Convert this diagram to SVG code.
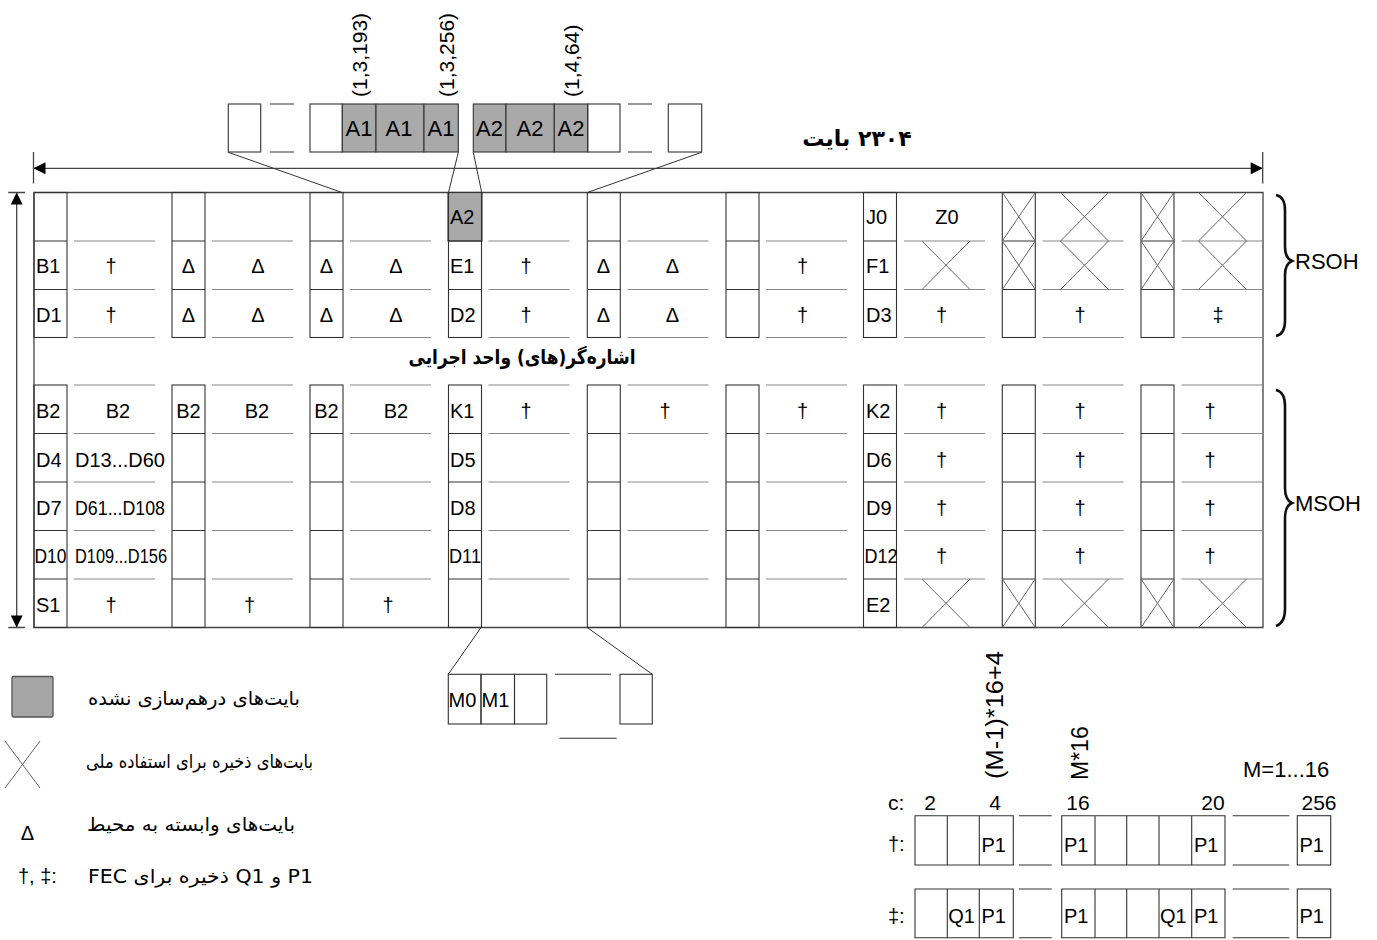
<svg xmlns="http://www.w3.org/2000/svg" xmlns:xlink="http://www.w3.org/1999/xlink" width="1377" height="940" viewBox="0 0 1377 940">
<style>
.t{font-family:'Liberation Sans',Arial,sans-serif;font-size:20px;fill:#000}
.tc{text-anchor:middle}
.big{font-size:22px}
.fa{font-family:'DejaVu Sans','Noto Sans',sans-serif;font-size:19px;fill:#000}
.fab{font-family:'DejaVu Sans','Noto Sans',sans-serif;font-size:20px;font-weight:bold;fill:#000}
.box{fill:none;stroke:#333;stroke-width:1.1}
.seg{fill:none;stroke:#888;stroke-width:1.1}
.x{fill:none;stroke:#666;stroke-width:1}
.gr{fill:#a9a9a9;stroke:#333;stroke-width:1.1}
.out{fill:none;stroke:#444;stroke-width:1.3}
.ln{fill:none;stroke:#333;stroke-width:1}
.ar{fill:none;stroke:#444;stroke-width:1.3}
.br{fill:none;stroke:#111;stroke-width:2.6}
</style>
<defs>
<marker id="ah" viewBox="0 0 10 10" refX="10" refY="5" markerWidth="13" markerHeight="12" markerUnits="userSpaceOnUse" orient="auto-start-reverse"><path d="M0,0 L10,5 L0,10 z" fill="#000"/></marker>
<g id="colbox"><rect x="0" y="192.5" width="33" height="145"/><rect x="0" y="385" width="33" height="242.5"/><path d="M0 241H33M0 289.5H33M0 433.5H33M0 482H33M0 530.5H33M0 579H33"/></g>
<path id="segs" d="M0 241H81M0 289.5H81M0 337.5H81M0 385H81M0 433.5H81M0 482H81M0 530.5H81M0 579H81"/>
<path id="xcell" d="M0 0L33 48.5M33 0L0 48.5"/>
<path id="xgap" d="M0 0L48 48.5M48 0L0 48.5"/>
</defs>

<!-- width / height dimension arrows and title -->
<g id="dimensions">
<text class="fab" x="857" y="146" text-anchor="middle" direction="rtl" style="font-size:22px">۲۳۰۴ بایت</text>
<line class="ar" x1="33.5" y1="168.3" x2="1262.7" y2="168.3" marker-start="url(#ah)" marker-end="url(#ah)"/>
<path class="ar" d="M33.5 152V183.5M1262.7 152V183.5"/>
<line class="ar" x1="16.7" y1="192.5" x2="16.7" y2="627.5" marker-start="url(#ah)" marker-end="url(#ah)"/>
<path class="ar" d="M8.3 192.5H25M8.3 627.5H25"/>
</g>

<!-- top byte strip -->
<g id="top-strip">
<rect class="box" x="228.3" y="104" width="32.4" height="48"/>
<path class="box" d="M270 104H294M270 152H294M628 104H652M628 152H652"/>
<rect class="box" x="310" y="104" width="32.3" height="48"/>
<rect class="gr" x="342.3" y="104" width="33.7" height="48"/>
<rect class="gr" x="376" y="104" width="48" height="48"/>
<rect class="gr" x="424" y="104" width="34.3" height="48"/>
<rect class="gr" x="473.3" y="104" width="32.7" height="48"/>
<rect class="gr" x="506" y="104" width="48.3" height="48"/>
<rect class="gr" x="554.3" y="104" width="33.4" height="48"/>
<rect class="box" x="587.7" y="104" width="32.3" height="48"/>
<rect class="box" x="668.3" y="104" width="33.4" height="48"/>
<text class="t big tc" x="359" y="136">A1</text>
<text class="t big tc" x="399" y="136">A1</text>
<text class="t big tc" x="441" y="136">A1</text>
<text class="t big tc" x="489.5" y="136">A2</text>
<text class="t big tc" x="530" y="136">A2</text>
<text class="t big tc" x="571" y="136">A2</text>
<text class="t" style="font-size:21px" x="367.3" y="97" transform="rotate(-90 367.3 97)">(1,3,193)</text>
<text class="t" style="font-size:21px" x="453.8" y="97" transform="rotate(-90 453.8 97)">(1,3,256)</text>
<text class="t" style="font-size:21px" x="578.8" y="97" transform="rotate(-90 578.8 97)">(1,4,64)</text>
</g>

<!-- main frame -->
<g id="frame">
<path class="out" d="M34 192.5H1263V627.5H34Z"/>
<g class="seg">
<use xlink:href="#segs" x="74"/><use xlink:href="#segs" x="212"/><use xlink:href="#segs" x="350"/>
<use xlink:href="#segs" x="488.5"/><use xlink:href="#segs" x="627.5"/><use xlink:href="#segs" x="766"/>
<use xlink:href="#segs" x="904"/><use xlink:href="#segs" x="1042.5"/><use xlink:href="#segs" x="1181.5"/>
</g>
<text class="fab" x="522" y="364" text-anchor="middle" direction="rtl" textLength="227" lengthAdjust="spacingAndGlyphs">اشاره&#x200C;گر(های) واحد اجرایی</text>
</g>

<g id="col1">
<use class="box" xlink:href="#colbox" x="34"/>
<text class="t" x="36" y="273">B1</text>
<text class="t" x="36" y="321.5">D1</text>
<text class="t" x="36" y="417.5">B2</text>
<text class="t" x="36" y="466.5">D4</text>
<text class="t" x="36" y="515">D7</text>
<text class="t" x="34.5" y="563" textLength="32" lengthAdjust="spacingAndGlyphs">D10</text>
<text class="t" x="36" y="611.5">S1</text>
</g>
<g id="gap1">
<text class="t tc" x="111" y="273">†</text>
<text class="t tc" x="111" y="321.5">†</text>
<text class="t tc" x="118" y="417.5">B2</text>
<text class="t" x="75" y="466.5" textLength="90" lengthAdjust="spacingAndGlyphs">D13...D60</text>
<text class="t" x="75" y="515" textLength="90" lengthAdjust="spacingAndGlyphs">D61...D108</text>
<text class="t" x="75" y="563" textLength="92" lengthAdjust="spacingAndGlyphs">D109...D156</text>
<text class="t tc" x="111" y="611.5">†</text>
</g>
<g id="col2">
<use class="box" xlink:href="#colbox" x="172"/>
<text class="t tc" x="188.5" y="273">Δ</text>
<text class="t tc" x="188.5" y="321.5">Δ</text>
<text class="t tc" x="188.5" y="417.5">B2</text>
</g>
<g id="gap2">
<text class="t tc" x="258" y="273">Δ</text>
<text class="t tc" x="258" y="321.5">Δ</text>
<text class="t tc" x="257" y="417.5">B2</text>
<text class="t tc" x="249.5" y="611.5">†</text>
</g>
<g id="col3">
<use class="box" xlink:href="#colbox" x="310"/>
<text class="t tc" x="326.5" y="273">Δ</text>
<text class="t tc" x="326.5" y="321.5">Δ</text>
<text class="t tc" x="326.5" y="417.5">B2</text>
</g>
<g id="gap3">
<text class="t tc" x="396" y="273">Δ</text>
<text class="t tc" x="396" y="321.5">Δ</text>
<text class="t tc" x="396" y="417.5">B2</text>
<text class="t tc" x="388" y="611.5">†</text>
</g>
<g id="col4">
<rect class="gr" x="448" y="192.5" width="34" height="48.5"/>
<use class="box" xlink:href="#colbox" x="448.5"/>
<text class="t" x="450" y="224">A2</text>
<text class="t" x="450" y="273">E1</text>
<text class="t" x="450" y="321.5">D2</text>
<text class="t" x="450" y="417.5">K1</text>
<text class="t" x="450" y="466.5">D5</text>
<text class="t" x="450" y="515">D8</text>
<text class="t" x="449" y="563" textLength="32" lengthAdjust="spacingAndGlyphs">D11</text>
</g>
<g id="gap4">
<text class="t tc" x="526" y="273">†</text>
<text class="t tc" x="526" y="321.5">†</text>
<text class="t tc" x="526" y="417.5">†</text>
</g>
<g id="col5">
<use class="box" xlink:href="#colbox" x="587.3"/>
<text class="t tc" x="603.5" y="273">Δ</text>
<text class="t tc" x="603.5" y="321.5">Δ</text>
</g>
<g id="gap5">
<text class="t tc" x="672.5" y="273">Δ</text>
<text class="t tc" x="672.5" y="321.5">Δ</text>
<text class="t tc" x="665" y="417.5">†</text>
</g>
<g id="col6">
<use class="box" xlink:href="#colbox" x="726"/>
</g>
<g id="gap6">
<text class="t tc" x="802.5" y="273">†</text>
<text class="t tc" x="802.5" y="321.5">†</text>
<text class="t tc" x="802.5" y="417.5">†</text>
</g>
<g id="col7">
<use class="box" xlink:href="#colbox" x="863.5"/>
<text class="t" x="866" y="224">J0</text>
<text class="t" x="866" y="273">F1</text>
<text class="t" x="866" y="321.5">D3</text>
<text class="t" x="866" y="417.5">K2</text>
<text class="t" x="866" y="466.5">D6</text>
<text class="t" x="866" y="515">D9</text>
<text class="t" x="864.5" y="563" textLength="33" lengthAdjust="spacingAndGlyphs">D12</text>
<text class="t" x="866" y="611.5">E2</text>
</g>
<g id="gap7">
<text class="t tc" x="947" y="224">Z0</text>
<use class="x" xlink:href="#xgap" x="922" y="241"/>
<text class="t tc" x="941.5" y="321.5">†</text>
<text class="t tc" x="941.5" y="417.5">†</text>
<text class="t tc" x="941.5" y="466.5">†</text>
<text class="t tc" x="941.5" y="515">†</text>
<text class="t tc" x="941.5" y="563">†</text>
<use class="x" xlink:href="#xgap" x="922" y="579"/>
</g>
<g id="col8">
<use class="box" xlink:href="#colbox" x="1002.3"/>
<use class="x" xlink:href="#xcell" x="1002.3" y="192.5"/>
<use class="x" xlink:href="#xcell" x="1002.3" y="241"/>
<use class="x" xlink:href="#xcell" x="1002.3" y="579"/>
</g>
<g id="gap8">
<use class="x" xlink:href="#xgap" x="1060.5" y="192.5"/>
<use class="x" xlink:href="#xgap" x="1060.5" y="241"/>
<text class="t tc" x="1080" y="321.5">†</text>
<text class="t tc" x="1080" y="417.5">†</text>
<text class="t tc" x="1080" y="466.5">†</text>
<text class="t tc" x="1080" y="515">†</text>
<text class="t tc" x="1080" y="563">†</text>
<use class="x" xlink:href="#xgap" x="1060.5" y="579"/>
</g>
<g id="col9">
<use class="box" xlink:href="#colbox" x="1141"/>
<use class="x" xlink:href="#xcell" x="1141" y="192.5"/>
<use class="x" xlink:href="#xcell" x="1141" y="241"/>
<use class="x" xlink:href="#xcell" x="1141" y="579"/>
</g>
<g id="gap9">
<use class="x" xlink:href="#xgap" x="1198.5" y="192.5"/>
<use class="x" xlink:href="#xgap" x="1198.5" y="241"/>
<text class="t tc" x="1218" y="321.5">‡</text>
<text class="t tc" x="1210" y="417.5">†</text>
<text class="t tc" x="1210" y="466.5">†</text>
<text class="t tc" x="1210" y="515">†</text>
<text class="t tc" x="1210" y="563">†</text>
<use class="x" xlink:href="#xgap" x="1198.5" y="579"/>
</g>

<g id="rsoh">
<path class="br" d="M1276 195Q1285 197 1285 210V247Q1285 258 1292 261Q1285 264 1285 275V321Q1285 334 1276 336"/>
<text class="t big" x="1295" y="269">RSOH</text>
</g>
<g id="msoh">
<path class="br" d="M1276 390Q1285 392 1285 406V488Q1285 500 1292 503Q1285 506 1285 518V609Q1285 623 1276 626"/>
<text class="t big" x="1295" y="511">MSOH</text>
</g>

<!-- M0/M1 strip -->
<g id="m-strip">
<rect class="box" x="448.3" y="674.3" width="32.7" height="49.7"/>
<rect class="box" x="481" y="674.3" width="33.5" height="49.7"/>
<rect class="box" x="514.5" y="674.3" width="32.2" height="49.7"/>
<path class="box" d="M555 674.3H611M559.3 738.3H616.7"/>
<rect class="box" x="620" y="674.3" width="32.3" height="49.7"/>
<text class="t" x="448.5" y="706.5">M0</text>
<text class="t" x="481.5" y="706.5">M1</text>
</g>

<g id="connectors">
<path class="ln" d="M228.3 152.3L342 192.5M458.3 152.3L448.5 192.5M473.3 152.3L481.7 192.5M701.7 152.3L587.3 192.5"/>
<path class="ln" d="M481 627.5L448.3 674.3M587.3 627.5L652.3 674.3"/>
</g>

<!-- legend -->
<g id="legend">
<rect x="12" y="676.5" width="41" height="40.5" rx="1.5" fill="#a6a6a6" stroke="#555" stroke-width="1.3"/>
<text class="fa" x="194" y="705" text-anchor="middle" direction="rtl" textLength="212" lengthAdjust="spacingAndGlyphs">بایت&#x200C;های درهم&#x200C;سازی نشده</text>
<path class="x" d="M5 741L40 788M40 741L5 788"/>
<text class="fa" x="199.5" y="768" text-anchor="middle" direction="rtl" textLength="227" lengthAdjust="spacingAndGlyphs">بایت&#x200C;های ذخیره برای استفاده ملی</text>
<text class="t tc" x="27.5" y="840">Δ</text>
<text class="fa" x="191" y="831" text-anchor="middle" direction="rtl" textLength="208" lengthAdjust="spacingAndGlyphs">بایت&#x200C;های وابسته به محیط</text>
<text class="t" x="18" y="883">†, ‡:</text>
<text class="fa" x="200.5" y="883" text-anchor="middle" direction="rtl" textLength="225" lengthAdjust="spacingAndGlyphs">P1 و Q1 ذخیره برای FEC</text>
</g>

<!-- FEC byte positions -->
<g id="fec-positions">
<text class="t" style="font-size:23px" x="1002.5" y="779" transform="rotate(-90 1002.5 779)" textLength="128" lengthAdjust="spacingAndGlyphs">(M-1)*16+4</text>
<text class="t" style="font-size:23px" x="1088" y="780" transform="rotate(-90 1088 780)">M*16</text>
<text class="t" style="font-size:22px" x="1243" y="777">M=1...16</text>
<text class="t" style="font-size:21px" x="888" y="810">c:</text>
<text class="t tc" style="font-size:21px" x="930" y="810">2</text>
<text class="t tc" style="font-size:21px" x="995" y="810">4</text>
<text class="t tc" style="font-size:21px" x="1078" y="810">16</text>
<text class="t tc" style="font-size:21px" x="1213" y="810">20</text>
<text class="t tc" style="font-size:21px" x="1319" y="810">256</text>
</g>
<g id="fec-dagger">
<text class="t" x="888" y="851">†:</text>
<path class="box" d="M915 815.7H1013.3V865H915ZM947.3 815.7V865M979.3 815.7V865"/>
<path class="box" d="M1019 815.7H1051.7M1019 865H1051.7"/>
<path class="box" d="M1061.7 815.7H1225V865H1061.7ZM1095 815.7V865M1126.7 815.7V865M1159 815.7V865M1191.7 815.7V865"/>
<path class="box" d="M1232.7 815.7H1289.3M1232.7 865H1289.3"/>
<rect class="box" x="1297.3" y="815.7" width="33.4" height="49.3"/>
<text class="t" x="981.5" y="851.5">P1</text>
<text class="t" x="1064" y="851.5">P1</text>
<text class="t" x="1194" y="851.5">P1</text>
<text class="t" x="1299.5" y="851.5">P1</text>
</g>
<g id="fec-ddagger">
<text class="t" x="888" y="922.5">‡:</text>
<path class="box" d="M915 889H1013.3V937.7H915ZM947.3 889V937.7M979.3 889V937.7"/>
<path class="box" d="M1019 889H1051.7M1019 937.7H1051.7"/>
<path class="box" d="M1061.7 889H1225V937.7H1061.7ZM1095 889V937.7M1126.7 889V937.7M1159 889V937.7M1191.7 889V937.7"/>
<path class="box" d="M1232.7 889H1289.3M1232.7 937.7H1289.3"/>
<rect class="box" x="1297.3" y="889" width="33.4" height="48.7"/>
<text class="t" x="948.3" y="922.5">Q1</text>
<text class="t" x="981.5" y="922.5">P1</text>
<text class="t" x="1064" y="922.5">P1</text>
<text class="t" x="1160" y="922.5">Q1</text>
<text class="t" x="1194" y="922.5">P1</text>
<text class="t" x="1299.5" y="922.5">P1</text>
</g>
</svg>
